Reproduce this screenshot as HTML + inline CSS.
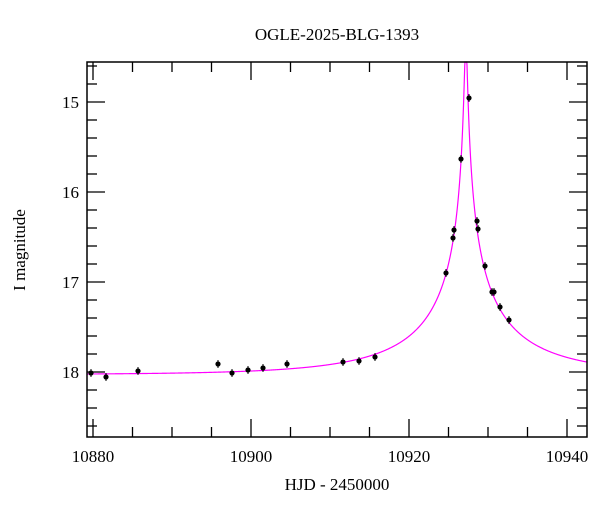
<!DOCTYPE html>
<html><head><meta charset="utf-8"><style>
body{margin:0;background:#fff}
text{font-family:"Liberation Serif",serif;fill:#000}
</style></head><body>
<svg id="s" width="600" height="512" xmlns="http://www.w3.org/2000/svg">
<rect width="600" height="512" fill="#fff"/>
<text x="337" y="40" font-size="17" text-anchor="middle">OGLE-2025-BLG-1393</text>
<text x="337" y="490" font-size="17" text-anchor="middle">HJD - 2450000</text>
<text transform="translate(25,250) rotate(-90)" font-size="17" text-anchor="middle">I magnitude</text>
<g id="ax" stroke="#000" stroke-width="1.3" fill="none"></g>
<path id="curve" stroke="#ff00ff" stroke-width="1.2" fill="none"/>
<g id="pts"></g>
<rect x="87" y="62" width="500" height="375" fill="none" stroke="#000" stroke-width="1.5"/>
</svg>
<script>
var L=87,R=587,T=62,B=437;
function X(t){return 93+(t-10880)*7.9;}
function Y(m){return 102+(m-15)*90;}
var ax=document.getElementById('ax'),s=document.getElementById('s');
var h='';
for(var t=10880;t<=10940;t+=5){var x=X(t),big=(t%20==0),l=big?18:10;
h+='<line x1="'+x+'" y1="'+B+'" x2="'+x+'" y2="'+(B-l)+'"/><line x1="'+x+'" y1="'+T+'" x2="'+x+'" y2="'+(T+l)+'"/>';}
for(var m=14.6;m<=18.7;m+=0.2){var y=Y(m),big=Math.abs(m-Math.round(m))<0.01,l=big?18:10;
h+='<line x1="'+L+'" y1="'+y+'" x2="'+(L+l)+'" y2="'+y+'"/><line x1="'+R+'" y1="'+y+'" x2="'+(R-l)+'" y2="'+y+'"/>';}
ax.innerHTML=h;
var tx='';
[10880,10900,10920,10940].forEach(function(t){tx+='<text x="'+X(t)+'" y="462" font-size="17" text-anchor="middle">'+t+'</text>';});
[15,16,17,18].forEach(function(m){tx+='<text x="79" y="'+(Y(m)+6)+'" font-size="17" text-anchor="end">'+m+'</text>';});
s.insertAdjacentHTML('beforeend',tx);
var d='',t0=10927.2,tE=18,u0=0.01,fs=0.293;
for(var px=L;px<=R;px+=0.25){var t=10880+(px-93)/7.9;var u=Math.sqrt(u0*u0+Math.pow((t-t0)/tE,2));
var A=(u*u+2)/(u*Math.sqrt(u*u+4));A=1+fs*(A-1);var y=Y(18.03-2.5*Math.log10(A));if(y<T)y=T;
d+=(d?'L':'M')+px.toFixed(2)+','+y.toFixed(2);}
document.getElementById('curve').setAttribute('d',d);
var P=[[91,373],[106,377],[138,371],[218,364],[232,373],[248,370],[263,368],[287,364],[343,362],[359,361],[375,357],[446,273],[453,238],[454,230],[461,159],[469,98],[477,221],[478,229],[485,266],[492,292],[494,292],[500,307],[509,320]];
var ph='';P.forEach(function(p){ph+='<line x1="'+p[0]+'" y1="'+(p[1]-4)+'" x2="'+p[0]+'" y2="'+(p[1]+4)+'" stroke="#000"/><circle cx="'+p[0]+'" cy="'+p[1]+'" r="2.6" fill="#000"/>';});
document.getElementById('pts').innerHTML=ph;
</script>
</body></html>
